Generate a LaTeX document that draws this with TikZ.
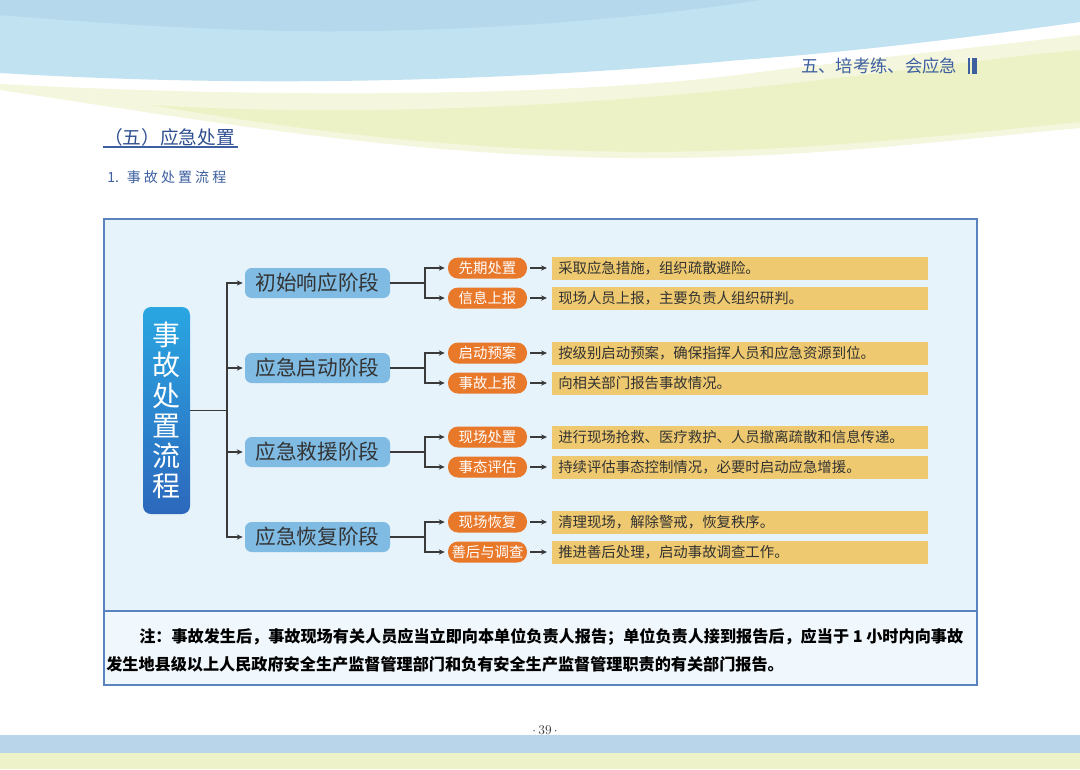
\documentclass[tikz,border=0pt]{standalone}
\usepackage{fontspec}
\newfontfamily\cjk{Noto Sans CJK SC}
\usetikzlibrary{arrows.meta}
\definecolor{bgblue}{HTML}{C0E2F1}
\definecolor{bgbluedark}{HTML}{B2D5EA}
\definecolor{bggreen}{HTML}{EDF2C6}
\definecolor{bggreenlight}{HTML}{F4F7DD}
\definecolor{bandblue}{HTML}{B8D5EA}
\definecolor{bandgreen}{HTML}{EEF2C8}
\definecolor{headblue}{HTML}{3D5FA0}
\definecolor{titleblue}{HTML}{2F4F90}
\definecolor{boxline}{HTML}{5A84C0}
\definecolor{boxfill}{HTML}{E7F3FB}
\definecolor{notefill}{HTML}{F1F8FD}
\definecolor{stagefill}{HTML}{7FBBE3}
\definecolor{stagetext}{HTML}{333333}
\definecolor{orangefill}{HTML}{E8782A}
\definecolor{yellowfill}{HTML}{EEC96F}
\definecolor{linecol}{HTML}{3A3A3A}
\definecolor{centertop}{HTML}{2AA6E2}
\definecolor{centerbot}{HTML}{2C68BC}
\tikzset{
  stagebox/.style={fill=stagefill, rounded corners=5pt, minimum width=108.75pt,
    minimum height=22.5pt, inner sep=0pt, text=stagetext,
    font=\cjk\fontsize{15.5}{16}\selectfont},
  orangebox/.style={fill=orangefill, rounded corners=7.5pt, minimum width=59.25pt,
    minimum height=15.75pt, inner sep=0pt, text=white,
    font=\cjk\fontsize{10.8}{12}\selectfont},
  yellowbox/.style={fill=yellowfill, anchor=west, minimum width=282pt,
    minimum height=17.25pt, inner ysep=0pt, inner xsep=4.5pt, text width=273pt,
    align=left, text=stagetext, font=\cjk\fontsize{10.8}{12}\selectfont},
  conn/.style={draw=linecol, line width=1.1pt},
  arr/.style={conn, -{Stealth[length=4.5pt,width=4pt]}},
}
\begin{document}
\begin{tikzpicture}[x=0.75pt,y=-0.75pt]
\useasboundingbox (0,0) rectangle (1080,769);
\fill[white] (0,0) rectangle (1080,769);
% background waves
\fill[bggreenlight] (0,84) .. controls (300,100) and (600,95) .. (760,72)
  .. controls (900,55) and (1000,45) .. (1080,35) -- (1080,128)
  .. controls (950,140) and (800,160) .. (620,158)
  .. controls (400,155) and (200,120) .. (0,90) -- cycle;
\fill[bggreen] (150,105) .. controls (400,120) and (650,100) .. (820,80)
  .. controls (950,65) and (1020,55) .. (1080,50) -- (1080,122)
  .. controls (950,135) and (800,152) .. (640,152)
  .. controls (450,150) and (300,130) .. (150,105) -- cycle;
\fill[bgblue] (0,0) -- (1080,0) -- (1080,22)
  .. controls (950,40) and (850,52) .. (740,60)
  .. controls (500,82) and (250,88) .. (0,73) -- cycle;
\fill[bgbluedark, opacity=0.7] (0,0) -- (760,0)
  .. controls (600,25) and (400,35) .. (250,30)
  .. controls (150,27) and (60,20) .. (0,15) -- cycle;
% header
\node[anchor=west, text=headblue, font=\cjk\fontsize{13}{14}\selectfont, inner sep=0pt]
  (head) at (801,66) {五、培考练、会应急};
\fill[headblue] (968,58) rectangle (970,74);
\fill[headblue] (972,58) rectangle (977,74);
% section titles
\node[anchor=west, text=titleblue, font=\cjk\fontsize{14}{15}\selectfont, inner sep=0pt]
  (sec) at (104,137) {（五）应急处置};
\draw[draw=headblue, line width=1.1pt] (103,147) -- (238,147);
\node[anchor=west, text=headblue, font=\cjk\fontsize{10.5}{12}\selectfont, inner sep=0pt]
  (sub) at (107,177) {1.\hspace{6pt}事\hspace{2.3pt}故\hspace{2.3pt}处\hspace{2.3pt}置\hspace{2.3pt}流\hspace{2.3pt}程};
% main frame
\fill[boxfill] (104,219) rectangle (977,611);
\fill[notefill] (104,611) rectangle (977,685);
\draw[boxline, line width=0.8pt] (104,219) rectangle (977,685);
\draw[boxline, line width=0.8pt] (104,611) -- (977,611);
% central node
\node[rounded corners=6pt, top color=centertop, bottom color=centerbot,
  minimum width=35.25pt, minimum height=155.25pt, inner sep=0pt, text=white,
  align=center, font=\cjk\fontsize{21}{22.6}\selectfont]
  (c) at (166.5,410.5) {事\\故\\处\\置\\流\\程};
% stages
\node[stagebox] (s1) at (317.5,283) {初始响应阶段};
\node[stagebox] (s2) at (317.5,368) {应急启动阶段};
\node[stagebox] (s3) at (317.5,452) {应急救援阶段};
\node[stagebox] (s4) at (317.5,537) {应急恢复阶段};
\coordinate (j0) at (227,410.5);
\draw[conn] (c.east) -- (j0);
\draw[conn] (227,283) -- (227,537);
\foreach \s in {s1,s2,s3,s4} {
  \draw[arr, shorten >=1.5pt] (j0) |- (\s.west);
}
% sub steps
\foreach \s/\c/\i in {s1/283/1, s2/368/2, s3/452/3, s4/537/4} {
  \coordinate (b\i) at (425,\c);
  \draw[conn] (\s.east) -- (b\i);
  \draw[conn] (425,\c-15) -- (425,\c+15);
}
\node[orangebox] (o11) at (487.5,268) {先期处置};
\node[orangebox] (o12) at (487.5,298) {信息上报};
\node[orangebox] (o21) at (487.5,353) {启动预案};
\node[orangebox] (o22) at (487.5,383) {事故上报};
\node[orangebox] (o31) at (487.5,437) {现场处置};
\node[orangebox] (o32) at (487.5,467) {事态评估};
\node[orangebox] (o41) at (487.5,522) {现场恢复};
\node[orangebox] (o42) at (487.5,552) {善后与调查};
\node[yellowbox] (y11) at (552,268) {采取应急措施，组织疏散避险。};
\node[yellowbox] (y12) at (552,298) {现场人员上报，主要负责人组织研判。};
\node[yellowbox] (y21) at (552,353) {按级别启动预案，确保指挥人员和应急资源到位。};
\node[yellowbox] (y22) at (552,383) {向相关部门报告事故情况。};
\node[yellowbox] (y31) at (552,437) {进行现场抢救、医疗救护、人员撤离疏散和信息传递。};
\node[yellowbox] (y32) at (552,467) {持续评估事态控制情况，必要时启动应急增援。};
\node[yellowbox] (y41) at (552,522) {清理现场，解除警戒，恢复秩序。};
\node[yellowbox] (y42) at (552,552) {推进善后处理，启动事故调查工作。};
\foreach \i in {1,2,3,4} {
  \foreach \k in {1,2} {
    \draw[arr, shorten >=2.25pt] (b\i) |- (o\i\k.west);
    \draw[arr, shorten <=2.25pt, shorten >=3.75pt] (o\i\k.east) -- (y\i\k.west);
  }
}
% note
\node[anchor=west, inner sep=0pt, text=black, font=\cjk\bfseries\fontsize{12.1}{14}\selectfont]
  (n1) at (139,637) {注：事故发生后，事故现场有关人员应当立即向本单位负责人报告；单位负责人接到报告后，应当于 1 小时内向事故};
\node[anchor=west, inner sep=0pt, text=black, font=\cjk\bfseries\fontsize{12.1}{14}\selectfont]
  (n2) at (106,664) {发生地县级以上人民政府安全生产监督管理部门和负有安全生产监督管理职责的有关部门报告。};
% footer
\node[text=black!75, font=\fontsize{10}{12}\selectfont, inner sep=0pt] (pg) at (545,730) {$\cdot$\,39\,$\cdot$};
\fill[bandblue] (0,735) rectangle (1080,753);
\fill[bandgreen] (0,753) rectangle (1080,769);
\end{tikzpicture}
\end{document}
